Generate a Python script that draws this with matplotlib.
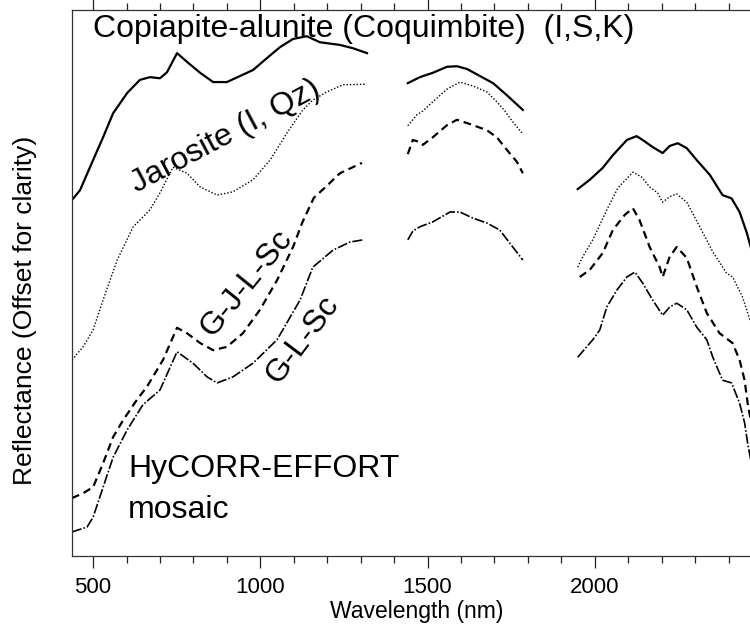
import numpy as np
import matplotlib
matplotlib.use('Agg')
import matplotlib.pyplot as plt
from matplotlib.ticker import FixedLocator, MultipleLocator

plt.rcParams['font.family'] = ['Liberation Sans', 'DejaVu Sans']

# ---- spectra (wavelength nm, reflectance offset for clarity, arbitrary units) ----
# Copiapite-alunite (Coquimbite) (I,S,K)  -- solid
cop_wl1 = [437, 461, 500, 530, 560, 602, 640, 670, 700, 721, 751, 781, 820, 859, 900,
           939, 978, 1020, 1059, 1098, 1139, 1178, 1238, 1277, 1319]
cop_r1 = [65.2, 67.0, 72.5, 76.7, 81.1, 84.8, 87.2, 87.7, 87.5, 88.6, 92.1, 90.5, 88.5, 86.8, 86.8,
          87.9, 89.0, 91.2, 93.2, 94.7, 95.2, 94.1, 93.6, 93.0, 92.1]
cop_wl2 = [1441, 1477, 1516, 1558, 1588, 1618, 1657, 1696, 1737, 1785]
cop_r2 = [86.6, 87.7, 88.5, 89.6, 89.7, 89.2, 87.9, 86.6, 84.4, 81.7]
cop_wl3 = [1949, 1985, 2024, 2054, 2096, 2125, 2143, 2173, 2203, 2224, 2248, 2275, 2305,
           2344, 2382, 2409, 2433, 2454, 2469, 2480]
cop_r3 = [67.2, 68.9, 71.1, 73.4, 76.2, 76.9, 76.2, 74.9, 73.8, 75.1, 75.6, 74.7, 72.5,
          69.8, 66.1, 65.5, 63.0, 59.3, 56.0, 52.5]

# Jarosite (I, Qz)  -- dotted
jar_wl1 = [437, 470, 500, 530, 572, 620, 670, 700, 739, 781, 820, 871, 918, 978, 1029,
           1080, 1127, 1157, 1199, 1247, 1313]
jar_r1 = [35.9, 38.3, 41.4, 46.9, 54.2, 60.3, 63.4, 66.5, 71.2, 70.1, 67.6, 66.1, 66.7, 68.9, 72.5,
          77.5, 81.7, 83.5, 85.0, 86.3, 86.4]
jar_wl2 = [1441, 1468, 1486, 1516, 1558, 1597, 1635, 1677, 1707, 1731, 1755, 1782]
jar_r2 = [78.8, 80.8, 81.5, 83.2, 85.5, 86.8, 86.1, 85.0, 83.2, 81.5, 79.5, 77.5]
jar_wl3 = [1949, 1964, 1994, 2036, 2069, 2114, 2140, 2164, 2188, 2203, 2224, 2245, 2275,
           2314, 2353, 2394, 2412, 2442, 2469, 2480]
jar_r3 = [52.9, 54.8, 57.9, 63.4, 67.4, 70.3, 69.4, 67.6, 66.5, 64.8, 65.8, 66.3, 64.8,
          60.3, 55.7, 51.8, 51.1, 47.4, 42.3, 39.0]

# G-J-L-Sc  -- dashed
gjl_wl1 = [437, 470, 500, 530, 560, 590, 631, 661, 709, 751, 781, 820, 859, 900, 948,
           999, 1050, 1098, 1125, 1160, 1199, 1238, 1304]
gjl_r1 = [10.6, 11.5, 12.6, 17.0, 21.8, 24.9, 28.6, 31.0, 35.9, 41.8, 40.8, 39.0, 37.7, 38.3, 40.8,
          45.1, 50.5, 56.6, 61.0, 65.6, 67.8, 70.1, 72.0]
gjl_wl2 = [1441, 1456, 1477, 1486, 1516, 1558, 1588, 1627, 1677, 1707, 1737, 1767, 1785]
gjl_r2 = [73.6, 76.2, 75.8, 75.3, 76.7, 78.9, 79.9, 79.1, 78.0, 76.7, 74.4, 72.2, 70.1]
gjl_wl3 = [1955, 1985, 2024, 2054, 2090, 2114, 2134, 2164, 2194, 2203, 2224, 2245, 2275,
           2305, 2335, 2373, 2412, 2433, 2448, 2457, 2469, 2480]
gjl_r3 = [51.1, 52.4, 55.5, 59.7, 62.5, 63.7, 61.5, 56.6, 52.9, 51.1, 54.8, 56.6, 54.6,
          49.3, 44.5, 40.8, 39.0, 35.9, 32.2, 28.0, 24.0, 20.5]

# G-L-Sc  -- dash-dot
gl_wl1 = [437, 482, 500, 530, 560, 602, 649, 700, 751, 799, 841, 871, 918, 978, 1050,
          1119, 1157, 1217, 1268, 1307]
gl_r1 = [4.4, 5.3, 7.1, 12.6, 18.1, 23.1, 27.7, 30.4, 37.4, 35.3, 32.8, 31.7, 32.8, 35.3, 39.6,
         46.9, 52.9, 56.0, 57.5, 57.9]
gl_wl2 = [1441, 1456, 1477, 1516, 1567, 1597, 1635, 1677, 1716, 1746, 1785]
gl_r2 = [57.9, 59.5, 60.3, 61.2, 63.0, 63.0, 61.9, 61.0, 59.7, 57.3, 54.2]
gl_wl3 = [1949, 1994, 2015, 2036, 2066, 2096, 2120, 2143, 2173, 2203, 2224, 2245, 2275,
          2305, 2335, 2353, 2382, 2409, 2433, 2448, 2457, 2469, 2480]
gl_r3 = [36.4, 39.6, 41.4, 45.6, 48.7, 51.1, 52.0, 50.0, 46.9, 44.1, 45.6, 46.3, 45.1,
         41.9, 39.6, 36.4, 32.2, 31.7, 28.0, 24.4, 20.7, 16.7, 12.5]

major_ticks = [500, 1000, 1500, 2000]

#-----------------------------------------
fig = plt.figure(figsize=(7.5, 6.28), dpi=100)
ax = fig.add_axes([72/750, 72/628, 690/750, 546/628])

segs = [
    ((cop_wl1, cop_r1), (cop_wl2, cop_r2), (cop_wl3, cop_r3), dict(color='k', lw=1.6, ls='-')),
    ((jar_wl1, jar_r1), (jar_wl2, jar_r2), (jar_wl3, jar_r3), dict(color='k', lw=1.0, dashes=(1, 1.4))),
    ((gjl_wl1, gjl_r1), (gjl_wl2, gjl_r2), (gjl_wl3, gjl_r3), dict(color='k', lw=1.6, dashes=(3.5, 2.2))),
    ((gl_wl1, gl_r1), (gl_wl2, gl_r2), (gl_wl3, gl_r3), dict(color='k', lw=1.2, dashes=(6, 1.2, 1, 1.2))),
]
for s1, s2, s3, style in segs:
    for wl, r in (s1, s2, s3):
        ax.plot(wl, r, **style)

ax.set_xlim(437, 2500)
ax.set_ylim(0, 100)

ax.xaxis.set_major_locator(FixedLocator(major_ticks))
ax.xaxis.set_minor_locator(MultipleLocator(100))
ax.tick_params(axis='x', which='both', direction='out', top=True, bottom=True,
               labelsize=16, pad=6.5, width=0.9, color='#222222')
ax.tick_params(axis='x', which='major', length=8.5)
ax.tick_params(axis='x', which='minor', length=5)
ax.set_yticks([])
for sp in ax.spines.values():
    sp.set_linewidth(0.9)
    sp.set_color('#333333')

ax.set_xlabel('Wavelength (nm)', fontsize=16.5, labelpad=1.5)
ax.set_ylabel('Reflectance (Offset for clarity)', fontsize=19)
ax.yaxis.set_label_coords(-0.051, 0.45)

# annotations
ax.text(500, 95.1, 'Copiapite-alunite (Coquimbite)  (I,S,K)', fontsize=23,
        ha='left', va='baseline')
ax.text(897, 76.9, 'Jarosite (I, Qz)', fontsize=23, rotation=28,
        ha='center', va='center', rotation_mode='anchor')
ax.text(960, 50.0, 'G-J-L-Sc', fontsize=23, rotation=51,
        ha='center', va='center', rotation_mode='anchor')
ax.text(1127, 39.6, 'G-L-Sc', fontsize=23, rotation=53,
        ha='center', va='center', rotation_mode='anchor')
ax.text(605, 14.5, 'HyCORR-EFFORT', fontsize=23, ha='left', va='baseline')
ax.text(605, 7.0, 'mosaic', fontsize=23, ha='left', va='baseline')

fig.savefig('out.png', dpi=100)
